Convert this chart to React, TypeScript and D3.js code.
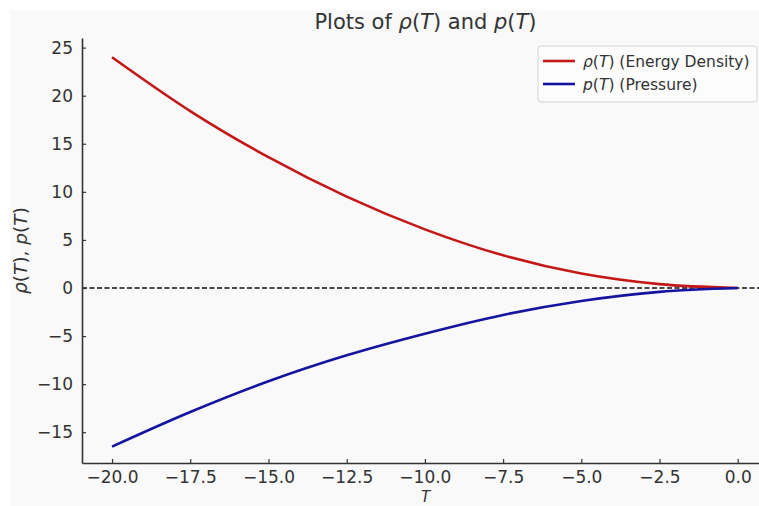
import React, { useEffect, useRef } from 'react';
import * as d3 from 'd3';

// values
const temps = [-20, -17.5, -15, -12.5, -10, -7.5, -5, -2.5, 0];
const rhoValues = [24.0, 18.4, 13.6, 9.5, 6.1, 3.4, 1.5, 0.4, 0];
const pValues = [-16.5, -12.9, -9.7, -7.0, -4.75, -2.8, -1.35, -0.4, 0];
const xTicks = [-20, -17.5, -15, -12.5, -10, -7.5, -5, -2.5, 0];
const yTicks = [-15, -10, -5, 0, 5, 10, 15, 20, 25];

const App = () => {
  const chartRef = useRef(null);

  useEffect(() => {
    const svg = d3.select(chartRef.current);
    svg.selectAll('*').remove();

    const font = 'DejaVu Sans, sans-serif';
    const left = 82, right = 769, top = 38, bottom = 463;

    svg.append('rect')
      .attr('x', 10).attr('y', 10)
      .attr('width', 759).attr('height', 506)
      .attr('fill', '#f9f9f9');

    const x = d3.scaleLinear().domain([-20.96, 1.0]).range([left, right]);
    const y = d3.scaleLinear().domain([-18.2, 26.0]).range([bottom, top]);

    // zero line
    svg.append('line')
      .attr('x1', left).attr('x2', right)
      .attr('y1', y(0)).attr('y2', y(0))
      .attr('stroke', '#111')
      .attr('stroke-width', 1.5)
      .attr('stroke-dasharray', '5,2.5');

    const line = d3.line<number>()
      .x((_, i) => x(temps[i]))
      .y(d => y(d))
      .curve(d3.curveMonotoneX);

    svg.append('path')
      .attr('d', line(rhoValues))
      .attr('fill', 'none')
      .attr('stroke', '#c41818')
      .attr('stroke-width', 2.6);

    svg.append('path')
      .attr('d', line(pValues))
      .attr('fill', 'none')
      .attr('stroke', '#1414a0')
      .attr('stroke-width', 2.6);

    // axes
    const xAxis = svg.append('g')
      .attr('transform', `translate(0,${bottom})`)
      .call(d3.axisBottom(x).tickValues(xTicks).tickSizeInner(-4).tickSizeOuter(0).tickPadding(8)
        .tickFormat(d => d3.format('.1f')(d as number)));

    const yAxis = svg.append('g')
      .attr('transform', `translate(${left},0)`)
      .call(d3.axisLeft(y).tickValues(yTicks).tickSizeInner(-4).tickSizeOuter(0).tickPadding(9)
        .tickFormat(d => d3.format('d')(d as number)));

    [xAxis, yAxis].forEach(a => {
      a.select('.domain').attr('stroke', '#333').attr('stroke-width', 1.6);
      a.selectAll('.tick line').attr('stroke', '#333').attr('stroke-width', 1.2);
      a.selectAll('.tick text')
        .attr('fill', '#333')
        .attr('font-family', font)
        .attr('font-size', 17);
    });

    // title
    const title = svg.append('text')
      .attr('x', (left + right) / 2).attr('y', 29)
      .attr('text-anchor', 'middle')
      .attr('font-family', font).attr('font-size', 21)
      .attr('fill', '#333');
    title.append('tspan').text('Plots of ');
    title.append('tspan').attr('font-style', 'italic').text('ρ');
    title.append('tspan').text('(');
    title.append('tspan').attr('font-style', 'italic').text('T');
    title.append('tspan').text(') and ');
    title.append('tspan').attr('font-style', 'italic').text('p');
    title.append('tspan').text('(');
    title.append('tspan').attr('font-style', 'italic').text('T');
    title.append('tspan').text(')');

    // axis labels
    svg.append('text')
      .attr('x', (left + right) / 2).attr('y', 502)
      .attr('text-anchor', 'middle')
      .attr('font-family', font).attr('font-size', 15)
      .attr('font-style', 'italic')
      .attr('fill', '#333')
      .text('T');

    const yl = svg.append('text')
      .attr('transform', `translate(27,${(top + bottom) / 2}) rotate(-90)`)
      .attr('text-anchor', 'middle')
      .attr('font-family', font).attr('font-size', 18.5)
      .attr('fill', '#333');
    yl.append('tspan').attr('font-style', 'italic').text('ρ');
    yl.append('tspan').text('(');
    yl.append('tspan').attr('font-style', 'italic').text('T');
    yl.append('tspan').text('), ');
    yl.append('tspan').attr('font-style', 'italic').text('p');
    yl.append('tspan').text('(');
    yl.append('tspan').attr('font-style', 'italic').text('T');
    yl.append('tspan').text(')');

    // legend
    const legend = svg.append('g');
    legend.append('rect')
      .attr('x', 538).attr('y', 46)
      .attr('width', 219).attr('height', 56)
      .attr('rx', 3)
      .attr('fill', '#fcfcfc')
      .attr('stroke', '#d4d4d4');

    const items = [
      { sym: 'ρ', rest: ' (Energy Density)', color: '#c41818' },
      { sym: 'p', rest: ' (Pressure)', color: '#1414a0' },
    ];
    items.forEach((it, i) => {
      const ly = 61 + i * 23;
      legend.append('line')
        .attr('x1', 543).attr('x2', 575)
        .attr('y1', ly).attr('y2', ly)
        .attr('stroke', it.color).attr('stroke-width', 2.6);
      const t = legend.append('text')
        .attr('x', 583).attr('y', ly + 5.5)
        .attr('font-family', font).attr('font-size', 15.5)
        .attr('fill', '#333');
      t.append('tspan').attr('font-style', 'italic').text(it.sym);
      t.append('tspan').text('(');
      t.append('tspan').attr('font-style', 'italic').text('T');
      t.append('tspan').text(')' + it.rest);
    });
  }, []);

  return (
    <svg ref={chartRef} width="759" height="506"
      style={{ position: 'absolute', left: 0, top: 0, background: '#fff' }}></svg>
  );
};

export default App;
